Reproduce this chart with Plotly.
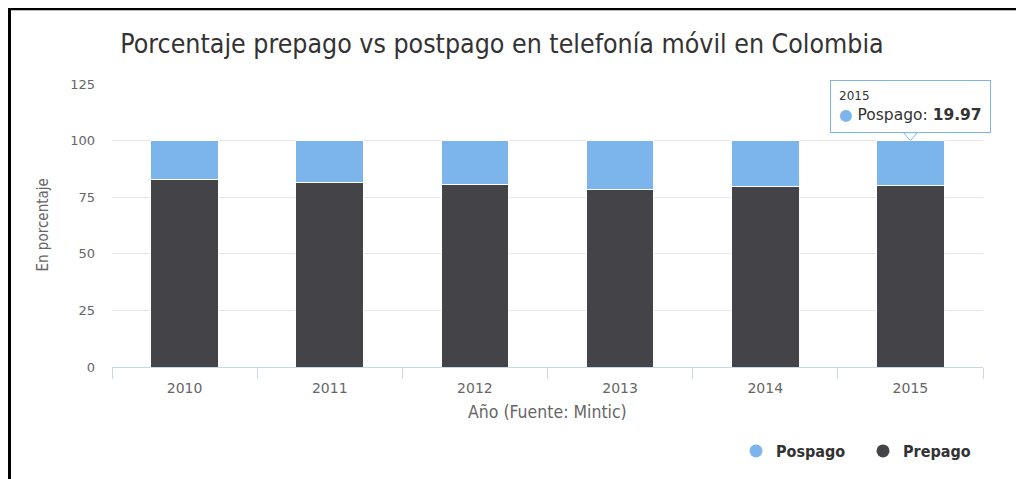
import plotly.graph_objects as go

# ---- data ----
years = ["2010", "2011", "2012", "2013", "2014", "2015"]
prepago = [83.0, 81.7, 80.5, 78.6, 79.8, 80.03]
pospago = [17.0, 18.3, 19.5, 21.4, 20.2, 19.97]
series_names = ["Pospago", "Prepago"]
colors = {"Pospago": "#7cb5ec", "Prepago": "#434348"}
title_text = "Porcentaje prepago vs postpago en telefonía móvil en Colombia"
x_title = "Año (Fuente: Mintic)"
y_title = "En porcentaje"
y_ticks = [0, 25, 50, 75, 100, 125]
tooltip_index = 5

# page has 8px body margin; figure placed at (8, 8)
OFF = 8
W, H = 1024 - OFF, 479 - OFF
# target plot area in page pixels: x 112..983, y 84..368
ML, MR, MT, MB = 112 - OFF, 1024 - 983, 84 - OFF, 479 - 368
PW, PH = W - ML - MR, H - MT - MB


def px_x(p):  # page pixel -> paper x
    return (p - OFF - ML) / PW


def px_y(p):  # page pixel -> paper y
    return (H - MB - (p - OFF)) / PH


COND = "Liberation Sans Narrow, DejaVu Sans Condensed, Liberation Sans, sans-serif"
WIDE = "DejaVu Sans, Verdana, sans-serif"

fig = go.Figure()
fig.add_trace(go.Bar(x=years, y=prepago, name="Prepago",
                     marker=dict(color=colors["Prepago"], line=dict(color="white", width=1)),
                     showlegend=False, hoverinfo="skip"))
fig.add_trace(go.Bar(x=years, y=pospago, name="Pospago",
                     marker=dict(color=colors["Pospago"], line=dict(color="white", width=1)),
                     showlegend=False, hoverinfo="skip"))

for n in series_names:
    fig.add_trace(go.Scatter(x=[years[0]], y=[None], mode="markers", name=n,
                             marker=dict(symbol="circle", size=13, color=colors[n])))

fig.update_layout(
    width=W, height=H,
    margin=dict(l=ML, r=MR, t=MT, b=MB),
    paper_bgcolor="white", plot_bgcolor="white",
    barmode="stack", bargap=0.534,
    title=dict(text=title_text, x=(502 - OFF) / W, xref="container", xanchor="center",
               y=(H - (44 - OFF)) / H, yref="container", yanchor="middle",
               font=dict(family=COND, size=26.5, color="#333333")),
    legend=dict(orientation="h", x=px_x(990), xanchor="right", y=px_y(451), yanchor="middle",
                traceorder="normal", font=dict(family=COND, size=16, color="#333333", weight="bold"),
                itemwidth=30, entrywidth=82, bgcolor="rgba(0,0,0,0)"),
    showlegend=True,
)

fig.update_xaxes(type="category", categoryorder="array", categoryarray=years,
                 range=[-0.5, len(years) - 0.5],
                 showline=True, linecolor="#ccd6eb", linewidth=1,
                 ticks="outside", tickson="boundaries", ticklen=11, tickcolor="#ccd6eb",
                 ticklabelstandoff=8,
                 tickfont=dict(family=WIDE, size=14, color="#666666"), showgrid=False)
fig.update_yaxes(range=[0, 125], tickvals=y_ticks, showgrid=True, gridcolor="#e6e6e6",
                 zeroline=False, showline=False, ticks="", ticklabelstandoff=16,
                 tickfont=dict(family=WIDE, size=13, color="#666666"))

# axis titles
fig.add_annotation(text=x_title, xref="paper", yref="paper", x=0.5, y=px_y(413),
                   xanchor="center", yanchor="middle",
                   showarrow=False, font=dict(family=COND, size=17.5, color="#666666"))
fig.add_annotation(text=y_title, xref="paper", yref="paper", x=px_x(42), y=0.5,
                   xanchor="center", yanchor="middle",
                   textangle=-90, showarrow=False, font=dict(family=COND, size=15, color="#666666"))

# tooltip
yr = years[tooltip_index]
top = prepago[tooltip_index] + pospago[tooltip_index]
fig.add_annotation(
    x=tooltip_index, y=top, xref="x", yref="y", showarrow=False,
    xanchor="center", yanchor="bottom", yshift=8,
    align="left",
    text=(f"<span style='font-size:12px'>{yr}</span><br>"
          f"<span style='color:{colors['Pospago']}'>●</span> Pospago: <b>{pospago[tooltip_index]:.2f}</b>"),
    font=dict(family=WIDE, size=15.5, color="#333333"),
    bgcolor="rgba(255,255,255,0.95)", bordercolor=colors["Pospago"], borderwidth=1, borderpad=8,
)
dy = 8 / (PH / 125)
hw = 7 / (PW / len(years))
fig.add_shape(type="path", xref="x", yref="y",
              path=f"M {tooltip_index - hw},{top + dy} L {tooltip_index},{top} L {tooltip_index + hw},{top + dy} Z",
              fillcolor="white", line=dict(color=colors["Pospago"], width=1), layer="above")

# frame lines (black border of the screenshot)
fig.add_shape(type="line", xref="paper", yref="paper", x0=px_x(7), x1=px_x(1030), y0=px_y(8.5), y1=px_y(8.5),
              line=dict(color="black", width=3))
fig.add_shape(type="line", xref="paper", yref="paper", x0=px_x(9), x1=px_x(9), y0=px_y(7), y1=px_y(485),
              line=dict(color="black", width=4))

fig.write_html("out.html")
